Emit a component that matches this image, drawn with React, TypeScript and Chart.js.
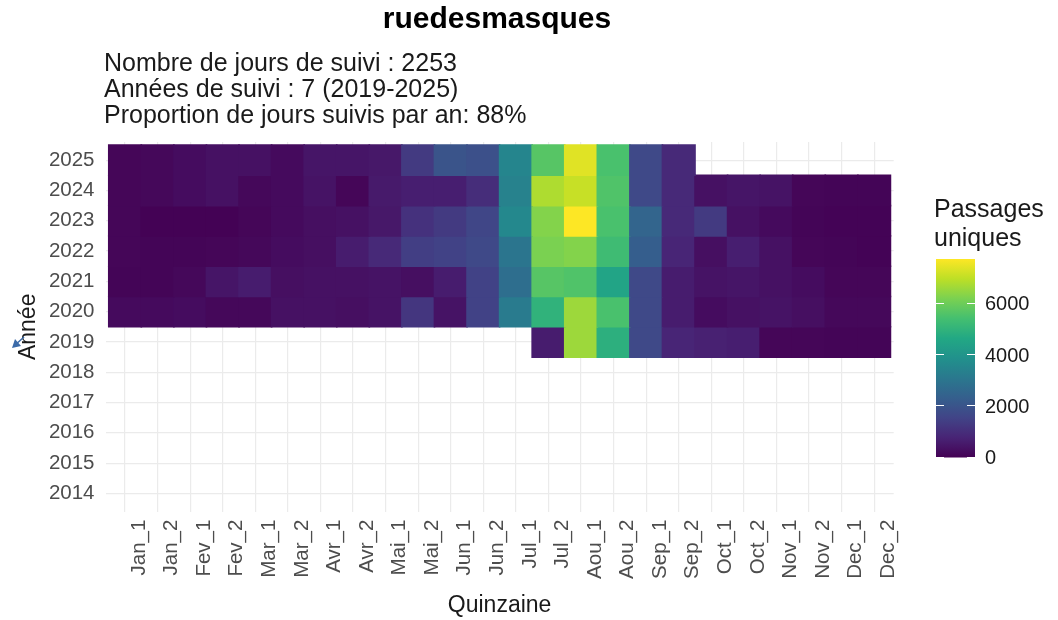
import React, { useEffect, useRef } from 'react';
import { Chart, registerables } from 'chart.js';

Chart.register(...registerables);

// ---------------- data ----------------
const quinzaines = [
  'Jan_1', 'Jan_2', 'Fev_1', 'Fev_2', 'Mar_1', 'Mar_2', 'Avr_1', 'Avr_2',
  'Mai_1', 'Mai_2', 'Jun_1', 'Jun_2', 'Jul_1', 'Jul_2', 'Aou_1', 'Aou_2',
  'Sep_1', 'Sep_2', 'Oct_1', 'Oct_2', 'Nov_1', 'Nov_2', 'Dec_1', 'Dec_2',
];
const yearTicks = [2014, 2015, 2016, 2017, 2018, 2019, 2020, 2021, 2022, 2023, 2024, 2025];
const dataYears = [2025, 2024, 2023, 2022, 2021, 2020, 2019];

const v2025 = [100, 150, 250, 350, 350, 200, 450, 450, 500, 1300, 2000, 1900, 3500, 5700, 7400, 5500, 1700, 900, null, null, null, null, null, null];
const v2024 = [100, 150, 250, 350, 150, 200, 400, 100, 550, 650, 650, 1000, 3400, 6800, 7100, 5600, 1700, 900, 350, 450, 400, 100, 80, 80];
const v2023 = [100, 30, 30, 30, 100, 200, 300, 350, 500, 1100, 1300, 1600, 3600, 6300, 7750, 5500, 2500, 900, 1300, 350, 200, 80, 50, 50];
const v2022 = [100, 80, 80, 100, 150, 250, 300, 600, 900, 1400, 1500, 1700, 3000, 6200, 6300, 5300, 2300, 800, 300, 650, 350, 100, 80, 50];
const v2021 = [80, 80, 150, 450, 600, 300, 350, 350, 400, 300, 600, 1500, 2800, 5700, 5600, 4500, 1700, 600, 400, 450, 350, 250, 100, 100];
const v2020 = [200, 200, 250, 150, 150, 350, 350, 300, 400, 1200, 400, 1500, 3200, 5000, 6600, 5500, 1700, 600, 250, 350, 400, 300, 150, 150];
const v2019 = [null, null, null, null, null, null, null, null, null, null, null, null, null, 600, 6600, 4900, 1700, 800, 700, 650, 100, 100, 80, 80];

const colorbarTicks = [0, 2000, 4000, 6000];

const titleText = 'ruedesmasques';
const subtitleLines = [
  'Nombre de jours de suivi : 2253',
  'Années de suivi : 7 (2019-2025)',
  'Proportion de jours suivis par an: 88%',
];
const legendTitle = ['Passages', 'uniques'];
const xTitle = 'Quinzaine';
const yTitle = 'Année';

// ---------------- style ----------------
const FONT = "'Liberation Sans', Arial, Helvetica, sans-serif";
const VIRIDIS = ['#440154', '#482475', '#414487', '#355f8d', '#2a788e', '#21918c', '#22a884', '#44bf70', '#7ad151', '#bddf26', '#fde725'];

function hexToRgb(h: string) {
  const n = parseInt(h.slice(1), 16);
  return [(n >> 16) & 255, (n >> 8) & 255, n & 255];
}
function viridis(t: number) {
  const c = Math.max(0, Math.min(1, t)) * (VIRIDIS.length - 1);
  const i = Math.min(Math.floor(c), VIRIDIS.length - 2);
  const f = c - i;
  const a = hexToRgb(VIRIDIS[i]);
  const b = hexToRgb(VIRIDIS[i + 1]);
  const r = a.map((v, k) => Math.round(v + (b[k] - v) * f));
  return `rgb(${r[0]},${r[1]},${r[2]})`;
}

const W = 1058;
const H = 620;
const PLOT_LEFT = 105.5;
const PLOT_RIGHT = 893.7;
const PLOT_TOP = 142;
const PLOT_BOTTOM = 511.6;

const CB_X0 = 936;
const CB_X1 = 975;
const CB_TOP = 259;
const CB_BOTTOM = 457.5;

export default function App() {
  const ref = useRef<HTMLCanvasElement | null>(null);

  useEffect(() => {
    if (!ref.current) return;
    const rows = [v2025, v2024, v2023, v2022, v2021, v2020, v2019];
    const allVals = rows.flat().filter((v) => v != null) as number[];
    const vmax = Math.max(...allVals);
    const vmin = 0;

    const datasets = dataYears.map((yr, k) => {
      const pts: any[] = [];
      const cols: string[] = [];
      rows[k].forEach((v, i) => {
        if (v == null) return;
        pts.push({ x: i, y: [yr - 0.5, yr + 0.5] });
        cols.push(viridis((v - vmin) / (vmax - vmin)));
      });
      return {
        label: String(yr),
        data: pts,
        backgroundColor: cols,
        borderWidth: 0,
        inflateAmount: 0.8,
        barPercentage: 1,
        categoryPercentage: 1,
        grouped: false,
      };
    });

    const decorations = {
      id: 'decorations',
      afterDraw(chart: any) {
        const ctx = chart.ctx as CanvasRenderingContext2D;
        ctx.save();
        // title
        ctx.fillStyle = '#000000';
        ctx.textAlign = 'center';
        ctx.textBaseline = 'alphabetic';
        ctx.font = `bold 30px ${FONT}`;
        ctx.fillText(titleText, 497, 28);
        // subtitle
        ctx.textAlign = 'left';
        ctx.font = `25px ${FONT}`;
        ctx.fillStyle = '#1a1a1a';
        subtitleLines.forEach((l, i) => ctx.fillText(l, 104, 71 + i * 26));
        // legend title
        legendTitle.forEach((l, i) => ctx.fillText(l, 934, 217 + i * 29));
        // colour bar
        const g = ctx.createLinearGradient(0, CB_BOTTOM, 0, CB_TOP);
        VIRIDIS.forEach((c, i) => g.addColorStop(i / (VIRIDIS.length - 1), c));
        ctx.fillStyle = g;
        ctx.fillRect(CB_X0, CB_TOP, CB_X1 - CB_X0, CB_BOTTOM - CB_TOP);
        const yFor = (v: number) => CB_BOTTOM - ((v - vmin) / (vmax - vmin)) * (CB_BOTTOM - CB_TOP);
        ctx.strokeStyle = '#ffffff';
        ctx.lineWidth = 1;
        ctx.font = `20px ${FONT}`;
        ctx.fillStyle = '#1a1a1a';
        ctx.textBaseline = 'middle';
        colorbarTicks.forEach((v) => {
          const y = Math.round(yFor(v)) - 0.5;
          ctx.beginPath();
          ctx.moveTo(CB_X0, y);
          ctx.lineTo(CB_X0 + 8, y);
          ctx.moveTo(CB_X1 - 8, y);
          ctx.lineTo(CB_X1, y);
          ctx.stroke();
          ctx.fillText(String(v), 985, yFor(v) + 1);
        });
        // small blue arrow artefact at left edge
        ctx.strokeStyle = '#3b6aa8';
        ctx.fillStyle = '#3b6aa8';
        ctx.lineWidth = 1.5;
        ctx.beginPath();
        ctx.moveTo(24, 337);
        ctx.lineTo(14, 346);
        ctx.stroke();
        ctx.beginPath();
        ctx.moveTo(12, 348);
        ctx.lineTo(21, 346);
        ctx.lineTo(15, 339);
        ctx.closePath();
        ctx.fill();
        ctx.restore();
      },
    };

    const chart = new Chart(ref.current, {
      type: 'bar',
      data: { datasets: datasets as any },
      options: {
        animation: false,
        responsive: true,
        maintainAspectRatio: false,
        layout: {
          padding: { left: 0, top: PLOT_TOP, right: W - PLOT_RIGHT, bottom: 0 },
        },
        plugins: {
          legend: { display: false },
          title: { display: false },
          tooltip: { enabled: false },
        },
        events: [],
        scales: {
          x: {
            type: 'linear',
            min: -0.6,
            max: 23.6,
            offset: false,
            afterBuildTicks: (s: any) => {
              s.ticks = quinzaines.map((_, i) => ({ value: i }));
            },
            afterFit: (s: any) => {
              s.height = H - PLOT_BOTTOM;
            },
            grid: { color: '#ebebeb', lineWidth: 1.2, drawTicks: false, offset: false },
            border: { display: false },
            ticks: {
              autoSkip: false,
              minRotation: 90,
              maxRotation: 90,
              padding: 8,
              labelOffset: 14,
              color: '#4d4d4d',
              font: { family: FONT, size: 20.5 },
              callback: (v: any) => quinzaines[v as number] ?? '',
            },
            title: {
              display: true,
              text: xTitle,
              color: '#1a1a1a',
              font: { family: FONT, size: 23 },
              padding: { top: 0, bottom: 1 },
            },
          },
          y: {
            type: 'linear',
            min: 2013.4,
            max: 2025.6,
            afterBuildTicks: (s: any) => {
              s.ticks = yearTicks.map((v) => ({ value: v }));
            },
            afterFit: (s: any) => {
              s.width = PLOT_LEFT;
            },
            grid: { color: '#ebebeb', lineWidth: 1.2, drawTicks: false },
            border: { display: false },
            ticks: {
              padding: 11,
              color: '#4d4d4d',
              font: { family: FONT, size: 20.5 },
              callback: (v: any) => String(v),
            },
            title: {
              display: true,
              text: yTitle,
              color: '#1a1a1a',
              font: { family: FONT, size: 23 },
              padding: { top: 15, bottom: 0 },
            },
          },
        },
      } as any,
      plugins: [decorations],
    });

    return () => chart.destroy();
  }, []);

  return (
    <div style={{ position: 'absolute', left: 0, top: 0, width: W, height: H, background: '#ffffff' }}>
      <canvas ref={ref} />
    </div>
  );
}
